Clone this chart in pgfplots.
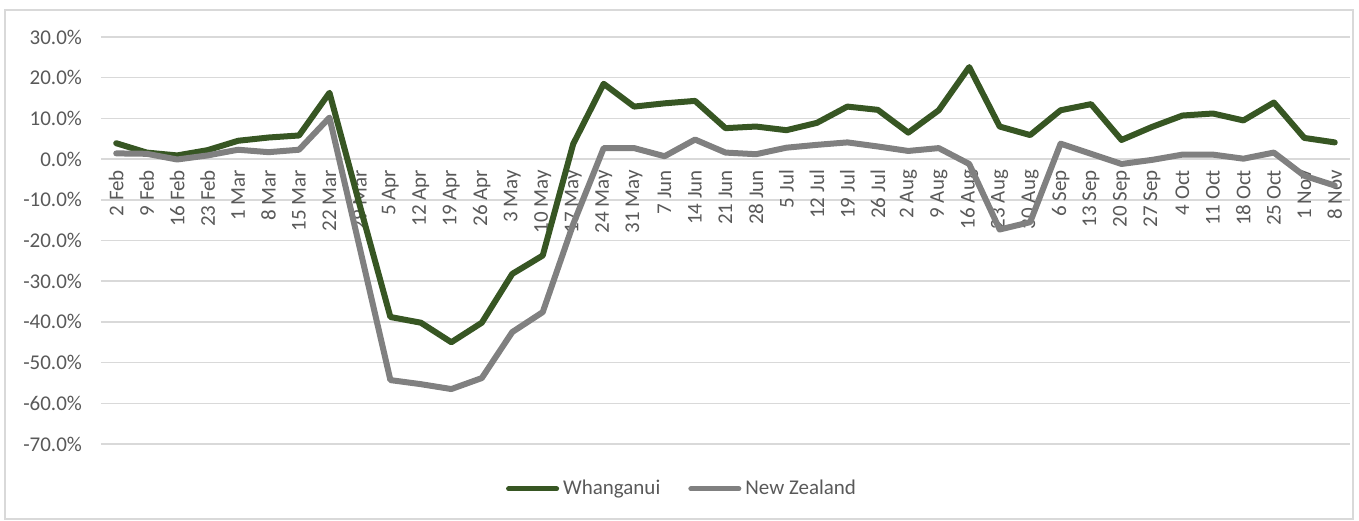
\documentclass[border=0pt]{standalone}
\usepackage{pgfplots}
\pgfplotsset{compat=1.18}
\usepackage{fontspec}
\setmainfont{Carlito}
\definecolor{wgreen}{HTML}{375623}
\definecolor{nzgray}{HTML}{808080}
\definecolor{txt}{HTML}{595959}
\definecolor{gridc}{HTML}{D9D9D9}
\pgfplotstableread{
x w n
0 3.9 1.4
1 1.6 1.3
2 0.9 -0.1
3 2.2 0.9
4 4.5 2.3
5 5.3 1.7
6 5.8 2.3
7 16.3 10.2
8 -11.5 -22.0
9 -38.8 -54.3
10 -40.2 -55.3
11 -45.0 -56.5
12 -40.2 -53.8
13 -28.2 -42.5
14 -23.7 -37.6
15 3.7 -16.0
16 18.5 2.7
17 12.9 2.7
18 13.7 0.7
19 14.3 4.8
20 7.6 1.6
21 8.0 1.2
22 7.1 2.8
23 8.9 3.5
24 12.9 4.1
25 12.1 3.1
26 6.5 2.0
27 12.0 2.7
28 22.6 -1.2
29 8.0 -17.3
30 5.9 -15.5
31 12.0 3.8
32 13.5 1.3
33 4.7 -1.2
34 7.9 -0.2
35 10.7 1.1
36 11.2 1.1
37 9.5 0.1
38 13.9 1.6
39 5.2 -4.1
40 4.1 -6.5
}\datatable
\begin{document}
\begin{tikzpicture}
\useasboundingbox (-50.5pt,-38pt) rectangle (629pt,222pt);
\draw[gridc, line width=0.75pt] (-48pt,-37.5pt) rectangle (626pt,217pt);
\begin{axis}[
  at={(0,0)}, anchor=south west,
  scale only axis,
  width=624.5pt, height=203.5pt,
  xmin=-0.5, xmax=40.5,
  ymin=-70, ymax=30,
  axis line style={draw=none},
  major tick length=0pt,
  ymajorgrids,
  grid style={gridc, line width=0.75pt},
  ytick={-70,-60,-50,-40,-30,-20,-10,0,10,20,30},
  yticklabels={-70.0\%,-60.0\%,-50.0\%,-40.0\%,-30.0\%,-20.0\%,-10.0\%,0.0\%,10.0\%,20.0\%,30.0\%},
  yticklabel style={font=\fontsize{10.5}{12}\selectfont, text=txt, xshift=-6pt},
  xtick={0,...,40},
  xticklabels={2 Feb,9 Feb,16 Feb,23 Feb,1 Mar,8 Mar,15 Mar,22 Mar,29 Mar,5 Apr,12 Apr,19 Apr,26 Apr,3 May,10 May,17 May,24 May,31 May,7 Jun,14 Jun,21 Jun,28 Jun,5 Jul,12 Jul,19 Jul,26 Jul,2 Aug,9 Aug,16 Aug,23 Aug,30 Aug,6 Sep,13 Sep,20 Sep,27 Sep,4 Oct,11 Oct,18 Oct,25 Oct,1 Nov,8 Nov},
  xticklabel style={font=\fontsize{10.5}{12}\selectfont, text=txt, yshift=140.5pt, rotate=90, anchor=east},
  legend style={at={(0.466,-0.11)}, anchor=center, draw=none, fill=none,
    font=\fontsize{10.5}{12}\selectfont, text=txt,
    legend columns=2, /tikz/every even column/.append style={column sep=12pt}},
  legend image code/.code={\draw[#1, line width=2.5pt, line cap=round] (0pt,0pt) -- (24pt,0pt);},
  clip=false,
]
\addplot[wgreen, line width=3pt, line join=round, line cap=round] table[x=x, y=w] {\datatable};
\addlegendentry{Whanganui}
\addplot[nzgray, line width=3pt, line join=round, line cap=round] table[x=x, y=n] {\datatable};
\addlegendentry{New Zealand}
\end{axis}
\end{tikzpicture}
\end{document}
